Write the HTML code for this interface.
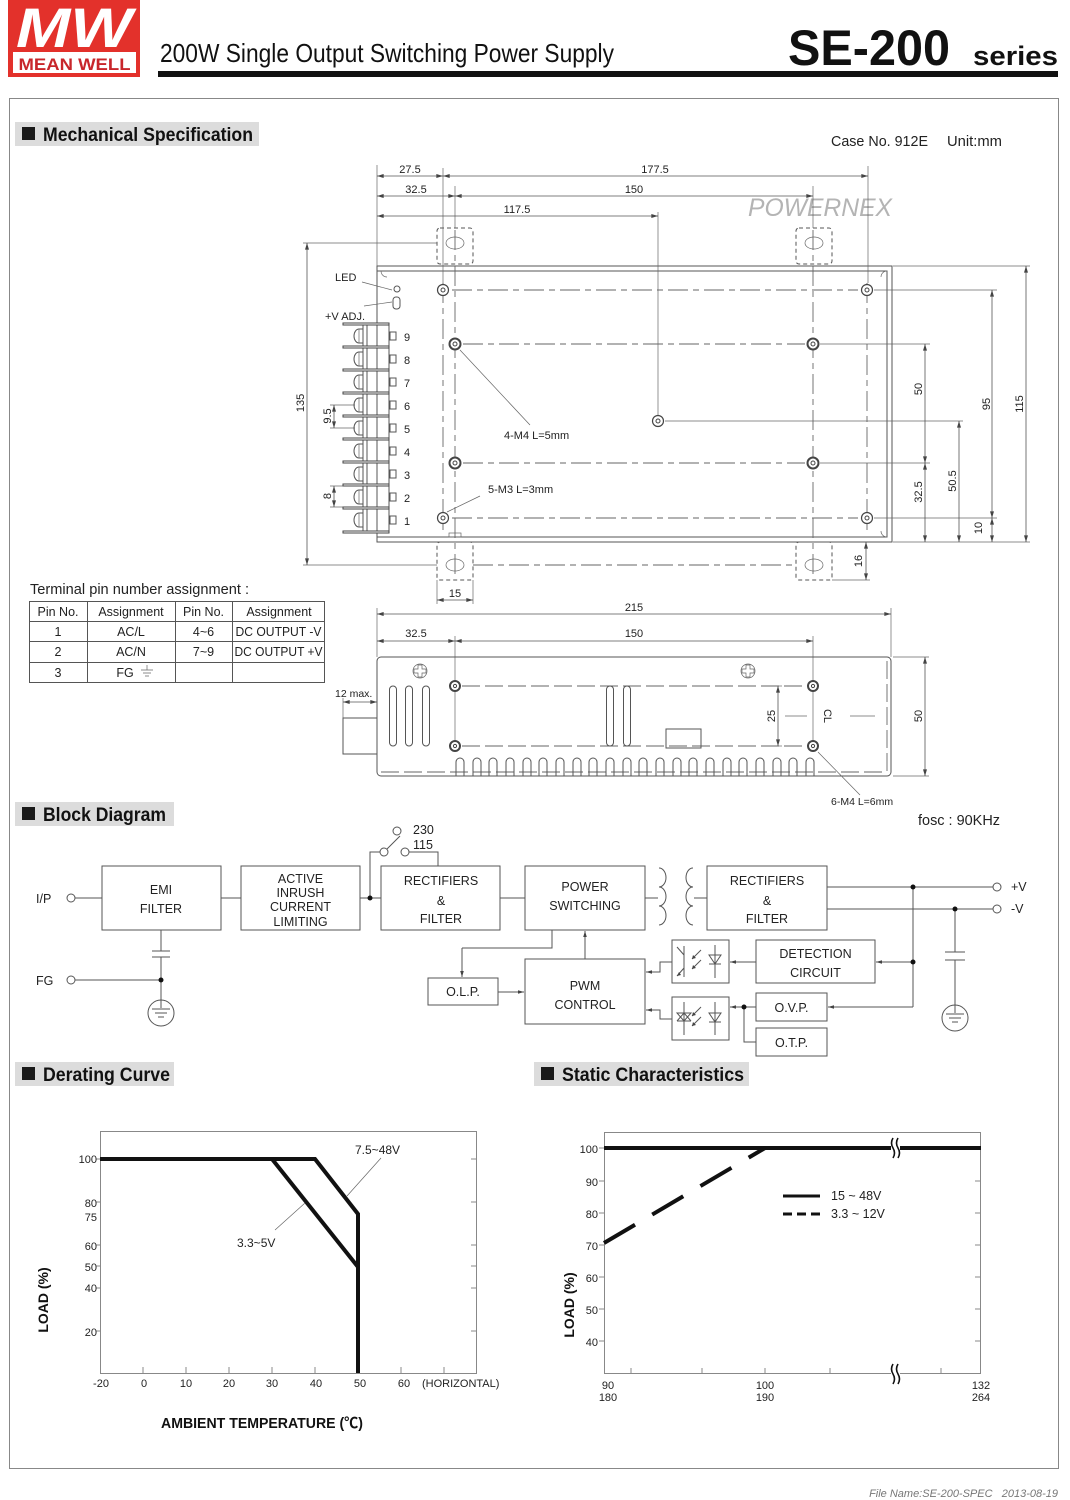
<!DOCTYPE html>
<html><head><meta charset="utf-8"><style>
html,body{margin:0;padding:0;background:#fff}
svg{display:block}
text{font-family:"Liberation Sans","Noto Sans CJK SC",Arial,sans-serif;fill:#222}
.s{stroke:#555;stroke-width:1;fill:none}
.e{stroke:#666;stroke-width:0.7;fill:none}
.d{stroke:#555;stroke-width:0.8;fill:none;marker-start:url(#a);marker-end:url(#a)}
.c{stroke:#666;stroke-width:0.9;fill:none;stroke-dasharray:20 5 6 5}
.dl{stroke:#666;stroke-width:0.9;fill:none;stroke-dasharray:18 5}
.t11{font-size:11px}
.t12{font-size:12.5px}
.bx{stroke:#555;stroke-width:1;fill:#fff}
.ar{stroke:#555;stroke-width:1;fill:none;marker-end:url(#b)}
.k{stroke:#111;stroke-width:4;fill:none;stroke-linejoin:miter}
</style></head><body>
<svg width="1070" height="1500" viewBox="0 0 1070 1500" xmlns="http://www.w3.org/2000/svg">
<defs>
<marker id="a" viewBox="0 0 10 6" refX="10" refY="3" markerWidth="7" markerHeight="4" markerUnits="userSpaceOnUse" orient="auto-start-reverse"><path d="M0,0 L10,3 L0,6z" fill="#444"/></marker>
<marker id="b" viewBox="0 0 10 6" refX="10" refY="3" markerWidth="6" markerHeight="4" markerUnits="userSpaceOnUse" orient="auto"><path d="M0,0 L10,3 L0,6z" fill="#444"/></marker>
</defs>

<!-- HEADER -->
<rect x="8" y="0" width="132" height="77" fill="#e3312b"/>
<text x="16" y="47" font-size="56" font-weight="bold" font-style="italic" textLength="116" lengthAdjust="spacingAndGlyphs" style="fill:#fff">MW</text>
<rect x="13" y="52" width="123" height="21" fill="#fff"/>
<text x="74.5" y="70" font-size="17" font-weight="bold" text-anchor="middle" textLength="112" lengthAdjust="spacingAndGlyphs" style="fill:#c8262b">MEAN WELL</text>
<text x="160" y="62" font-size="26" textLength="454" lengthAdjust="spacingAndGlyphs" style="fill:#111">200W Single Output Switching Power Supply</text>
<text x="788" y="65" font-size="50" font-weight="bold" textLength="162" lengthAdjust="spacingAndGlyphs" style="fill:#111">SE-200</text>
<text x="973" y="65" font-size="27" font-weight="bold" textLength="85" lengthAdjust="spacingAndGlyphs" style="fill:#111">series</text>
<rect x="158" y="71" width="900" height="6" fill="#111"/>

<!-- FRAME -->
<rect x="9.5" y="98.5" width="1049" height="1370" fill="none" stroke="#888" stroke-width="1"/>

<!-- SECTION HEADERS -->
<rect x="15" y="122" width="244" height="24" fill="#dcdcdc"/>
<rect x="22" y="127" width="13" height="13" fill="#1a1a1a"/>
<text x="43" y="141" font-size="19" font-weight="bold" textLength="210" lengthAdjust="spacingAndGlyphs" style="fill:#111">Mechanical Specification</text>
<text x="831" y="146" font-size="15" textLength="97" lengthAdjust="spacingAndGlyphs">Case No. 912E</text>
<text x="947" y="146" font-size="15" textLength="55" lengthAdjust="spacingAndGlyphs">Unit:mm</text>

<rect x="15" y="802" width="159" height="24" fill="#dcdcdc"/>
<rect x="22" y="807" width="13" height="13" fill="#1a1a1a"/>
<text x="43" y="821" font-size="19" font-weight="bold" textLength="123" lengthAdjust="spacingAndGlyphs" style="fill:#111">Block Diagram</text>

<rect x="15" y="1062" width="159" height="24" fill="#dcdcdc"/>
<rect x="22" y="1067" width="13" height="13" fill="#1a1a1a"/>
<text x="43" y="1081" font-size="19" font-weight="bold" textLength="127" lengthAdjust="spacingAndGlyphs" style="fill:#111">Derating Curve</text>

<rect x="534" y="1062" width="215" height="24" fill="#dcdcdc"/>
<rect x="541" y="1067" width="13" height="13" fill="#1a1a1a"/>
<text x="562" y="1081" font-size="19" font-weight="bold" textLength="182" lengthAdjust="spacingAndGlyphs" style="fill:#111">Static Characteristics</text>

<!-- ============ MECHANICAL TOP VIEW ============ -->
<text x="748" y="216" font-size="25" font-style="italic" textLength="144" lengthAdjust="spacingAndGlyphs" style="fill:#b4b4b4">POWERNEX</text>

<rect x="377" y="266" width="515" height="276" class="s"/>
<polyline points="377,271 887,271 887,537 377,537" class="s"/>
<path d="M381,271 a6,6 0 0 0 6,6 M887,271 a6,6 0 0 0 -6,6 M887,537 a6,6 0 0 1 -6,-6" class="e"/>
<rect x="449" y="533" width="12" height="4" class="e"/>

<g class="s" stroke-dasharray="4 3">
<rect x="437" y="228" width="36" height="36" rx="3"/>
<rect x="796" y="228" width="36" height="36" rx="3"/>
<rect x="437" y="542" width="36" height="38" rx="3"/>
<rect x="796" y="542" width="36" height="38" rx="3"/>
</g>
<g class="e">
<ellipse cx="455" cy="243" rx="9" ry="6"/><ellipse cx="814" cy="243" rx="9" ry="6"/>
<ellipse cx="455" cy="565" rx="9" ry="6"/><ellipse cx="814" cy="565" rx="9" ry="6"/>
</g>

<line x1="452" y1="290" x2="858" y2="290" class="c"/>
<line x1="463" y1="344" x2="805" y2="344" class="c"/>
<line x1="463" y1="463" x2="805" y2="463" class="c"/>
<line x1="452" y1="518" x2="858" y2="518" class="c"/>
<line x1="443" y1="283" x2="443" y2="530" class="c"/>
<line x1="867" y1="283" x2="867" y2="530" class="c"/>
<line x1="455" y1="230" x2="455" y2="578" class="c"/>
<line x1="813" y1="230" x2="813" y2="578" class="c"/>
<line x1="473" y1="565" x2="796" y2="565" class="c"/>

<g stroke="#444" fill="#fff">
<circle cx="443" cy="290" r="5.5" stroke-width="1.2"/><circle cx="443" cy="290" r="2" stroke-width="1"/>
<circle cx="867" cy="290" r="5.5" stroke-width="1.2"/><circle cx="867" cy="290" r="2" stroke-width="1"/>
<circle cx="443" cy="518" r="5.5" stroke-width="1.2"/><circle cx="443" cy="518" r="2" stroke-width="1"/>
<circle cx="867" cy="518" r="5.5" stroke-width="1.2"/><circle cx="867" cy="518" r="2" stroke-width="1"/>
<circle cx="658" cy="421" r="5.5" stroke-width="1.2"/><circle cx="658" cy="421" r="2" stroke-width="1"/>
<circle cx="455" cy="344" r="5.5" stroke-width="2"/><circle cx="455" cy="344" r="2" stroke-width="1"/>
<circle cx="455" cy="463" r="5.5" stroke-width="2"/><circle cx="455" cy="463" r="2" stroke-width="1"/>
<circle cx="813" cy="344" r="5.5" stroke-width="2"/><circle cx="813" cy="344" r="2" stroke-width="1"/>
<circle cx="813" cy="463" r="5.5" stroke-width="2"/><circle cx="813" cy="463" r="2" stroke-width="1"/>
</g>

<g class="e">
<line x1="377" y1="165" x2="377" y2="266"/>
<line x1="443" y1="168" x2="443" y2="283"/>
<line x1="868" y1="166" x2="868" y2="283"/>
<line x1="455" y1="186" x2="455" y2="228"/>
<line x1="813" y1="186" x2="813" y2="228"/>
<line x1="658" y1="212" x2="658" y2="415"/>
<line x1="893" y1="266" x2="1030" y2="266"/>
<line x1="874" y1="290" x2="997" y2="290"/>
<line x1="820" y1="344" x2="930" y2="344"/>
<line x1="665" y1="421" x2="963" y2="421"/>
<line x1="820" y1="463" x2="930" y2="463"/>
<line x1="874" y1="518" x2="997" y2="518"/>
<line x1="893" y1="542" x2="1030" y2="542"/>
<line x1="832" y1="580" x2="870" y2="580"/>
<line x1="303" y1="243" x2="437" y2="243"/>
<line x1="303" y1="565" x2="437" y2="565"/>
<line x1="330" y1="405" x2="355" y2="405"/>
<line x1="330" y1="428" x2="355" y2="428"/>
<line x1="330" y1="486" x2="355" y2="486"/>
<line x1="330" y1="507" x2="355" y2="507"/>
<line x1="437" y1="580" x2="437" y2="604"/>
<line x1="473" y1="580" x2="473" y2="604"/>
</g>

<line x1="377" y1="176" x2="443" y2="176" class="d"/>
<line x1="443" y1="176" x2="868" y2="176" class="d"/>
<line x1="377" y1="196" x2="455" y2="196" class="d"/>
<line x1="455" y1="196" x2="813" y2="196" class="d"/>
<line x1="377" y1="216" x2="658" y2="216" class="d"/>
<line x1="925" y1="344" x2="925" y2="463" class="d"/>
<line x1="925" y1="463" x2="925" y2="542" class="d"/>
<line x1="959" y1="421" x2="959" y2="542" class="d"/>
<line x1="992" y1="290" x2="992" y2="518" class="d"/>
<line x1="992" y1="518" x2="992" y2="542" class="d"/>
<line x1="1026" y1="266" x2="1026" y2="542" class="d"/>
<line x1="866" y1="542" x2="866" y2="580" class="d"/>
<line x1="307" y1="243" x2="307" y2="565" class="d"/>
<line x1="334" y1="405" x2="334" y2="428" class="d"/>
<line x1="334" y1="486" x2="334" y2="507" class="d"/>
<line x1="437" y1="600" x2="473" y2="600" class="d"/>

<g class="t11" text-anchor="middle">
<text x="410" y="173">27.5</text>
<text x="655" y="173">177.5</text>
<text x="416" y="193">32.5</text>
<text x="634" y="193">150</text>
<text x="517" y="213">117.5</text>
<text x="455" y="597">15</text>
<text transform="translate(922,389) rotate(-90)">50</text>
<text transform="translate(922,492) rotate(-90)">32.5</text>
<text transform="translate(956,481) rotate(-90)">50.5</text>
<text transform="translate(990,404) rotate(-90)">95</text>
<text transform="translate(982,528) rotate(-90)">10</text>
<text transform="translate(1023,404) rotate(-90)">115</text>
<text transform="translate(862,561) rotate(-90)">16</text>
<text transform="translate(304,403) rotate(-90)">135</text>
<text transform="translate(331,416) rotate(-90)">9.5</text>
<text transform="translate(331,496) rotate(-90)">8</text>
</g>

<g class="s">
<line x1="363" y1="324" x2="363" y2="532"/>
<line x1="367" y1="324" x2="367" y2="532"/>
<line x1="389" y1="324" x2="389" y2="532"/>
</g>
<g fill="#fff" stroke="#444" stroke-width="1">
<rect x="343" y="323" width="46" height="2"/>
<rect x="343" y="346" width="46" height="2"/>
<rect x="343" y="369" width="46" height="2"/>
<rect x="343" y="392" width="46" height="2"/>
<rect x="343" y="415" width="46" height="2"/>
<rect x="343" y="438" width="46" height="2"/>
<rect x="343" y="461" width="46" height="2"/>
<rect x="343" y="484" width="46" height="2"/>
<rect x="343" y="507" width="46" height="2"/>
<rect x="343" y="531" width="46" height="2"/>
</g>
<path class="s" d="M363,329 h-4 a5,7 0 0 0 0,14 h4 M363,352 h-4 a5,7 0 0 0 0,14 h4 M363,375 h-4 a5,7 0 0 0 0,14 h4 M363,398 h-4 a5,7 0 0 0 0,14 h4 M363,421 h-4 a5,7 0 0 0 0,14 h4 M363,444 h-4 a5,7 0 0 0 0,14 h4 M363,467 h-4 a5,7 0 0 0 0,14 h4 M363,490 h-4 a5,7 0 0 0 0,14 h4 M363,513 h-4 a5,7 0 0 0 0,14 h4"/>
<path class="e" d="M359,329 v14 M359,352 v14 M359,375 v14 M359,398 v14 M359,421 v14 M359,444 v14 M359,467 v14 M359,490 v14 M359,513 v14"/>
<g class="s">
<rect x="390" y="332" width="6" height="8"/><rect x="390" y="355" width="6" height="8"/>
<rect x="390" y="378" width="6" height="8"/><rect x="390" y="401" width="6" height="8"/>
<rect x="390" y="424" width="6" height="8"/><rect x="390" y="447" width="6" height="8"/>
<rect x="390" y="470" width="6" height="8"/><rect x="390" y="493" width="6" height="8"/>
<rect x="390" y="516" width="6" height="8"/>
</g>
<g class="t11">
<text x="404" y="341">9</text><text x="404" y="364">8</text><text x="404" y="387">7</text>
<text x="404" y="410">6</text><text x="404" y="433">5</text><text x="404" y="456">4</text>
<text x="404" y="479">3</text><text x="404" y="502">2</text><text x="404" y="525">1</text>
</g>

<circle cx="397" cy="289" r="3" class="s"/>
<rect x="393" y="297" width="7" height="12" rx="3" class="s"/>
<line x1="362" y1="282" x2="392" y2="290" class="e"/>
<line x1="364" y1="306" x2="392" y2="302" class="e"/>
<text x="335" y="281" class="t11">LED</text>
<text x="325" y="320" class="t11">+V ADJ.</text>

<line x1="460" y1="350" x2="530" y2="425" class="e"/>
<text x="504" y="439" class="t11">4-M4 L=5mm</text>
<line x1="480" y1="496" x2="447" y2="512" class="e"/>
<text x="488" y="493" class="t11">5-M3 L=3mm</text>

<!-- ============ TERMINAL TABLE ============ -->
<text x="30" y="594" font-size="15" textLength="219" lengthAdjust="spacingAndGlyphs">Terminal pin number assignment :</text>
<g class="s" stroke="#666">
<rect x="29.5" y="601.5" width="295" height="81"/>
<line x1="29.5" y1="621.5" x2="324.5" y2="621.5"/>
<line x1="29.5" y1="641.5" x2="324.5" y2="641.5"/>
<line x1="29.5" y1="662.5" x2="324.5" y2="662.5"/>
<line x1="87.5" y1="601.5" x2="87.5" y2="682.5"/>
<line x1="175.5" y1="601.5" x2="175.5" y2="682.5"/>
<line x1="232.5" y1="601.5" x2="232.5" y2="682.5"/>
</g>
<g class="t12" text-anchor="middle">
<text x="58" y="616">Pin No.</text><text x="131" y="616">Assignment</text>
<text x="203.5" y="616">Pin No.</text><text x="279" y="616">Assignment</text>
<text x="58" y="636">1</text><text x="131" y="636">AC/L</text>
<text x="203.5" y="636">4~6</text><text x="278.5" y="636" textLength="86" lengthAdjust="spacingAndGlyphs">DC OUTPUT -V</text>
<text x="58" y="656">2</text><text x="131" y="656">AC/N</text>
<text x="203.5" y="656">7~9</text><text x="278.5" y="656" textLength="88" lengthAdjust="spacingAndGlyphs">DC OUTPUT +V</text>
<text x="58" y="677">3</text><text x="125" y="677">FG</text>
</g>
<path d="M147,665 v5 M141,670 h12 M143,673 h8 M145,676 h4" class="e" stroke="#333"/>

<!-- ============ SIDE VIEW ============ -->
<g class="e">
<line x1="377" y1="608" x2="377" y2="657"/>
<line x1="891" y1="608" x2="891" y2="657"/>
<line x1="455" y1="636" x2="455" y2="746"/>
<line x1="813" y1="636" x2="813" y2="746"/>
<line x1="343" y1="698" x2="343" y2="718"/>
<line x1="893" y1="657" x2="929" y2="657"/>
<line x1="893" y1="776" x2="929" y2="776"/>
<line x1="770" y1="686" x2="782" y2="686"/>
<line x1="770" y1="746" x2="782" y2="746"/>
</g>
<line x1="377" y1="614" x2="891" y2="614" class="d"/>
<line x1="377" y1="641" x2="455" y2="641" class="d"/>
<line x1="455" y1="641" x2="813" y2="641" class="d"/>
<line x1="343" y1="702" x2="377" y2="702" class="d"/>
<line x1="778" y1="686" x2="778" y2="746" class="d"/>
<line x1="925" y1="657" x2="925" y2="776" class="d"/>
<g class="t11" text-anchor="middle">
<text x="634" y="611">215</text>
<text x="416" y="637">32.5</text>
<text x="634" y="637">150</text>
<text transform="translate(775,716) rotate(-90)">25</text>
<text transform="translate(922,716) rotate(-90)">50</text>
<text transform="translate(824,716) rotate(90)">CL</text>
</g>
<text x="335" y="697" font-size="10.5">12 max.</text>

<rect x="377" y="657" width="514" height="119" rx="4" class="s"/>
<line x1="887" y1="661" x2="887" y2="772" class="dl" stroke-dasharray="6 3"/>
<line x1="381" y1="772" x2="887" y2="772" class="dl" stroke-dasharray="8 3"/>
<rect x="343" y="718" width="34" height="36" class="s"/>

<g class="e" stroke="#555">
<circle cx="420" cy="671" r="7"/><path d="M418,665 h4 v4 h4 v4 h-4 v4 h-4 v-4 h-4 v-4 h4z"/>
<circle cx="748" cy="671" r="7"/><path d="M746,665 h4 v4 h4 v4 h-4 v4 h-4 v-4 h-4 v-4 h4z"/>
</g>
<line x1="462" y1="686" x2="806" y2="686" class="dl"/>
<line x1="462" y1="746" x2="806" y2="746" class="dl"/>
<g class="s">
<rect x="389.5" y="686" width="7" height="60" rx="3.5"/>
<rect x="405.5" y="686" width="7" height="60" rx="3.5"/>
<rect x="422.5" y="686" width="7" height="60" rx="3.5"/>
<rect x="606.5" y="686" width="7" height="60" rx="3.5"/>
<rect x="623.5" y="686" width="7" height="60" rx="3.5"/>
<rect x="666" y="729" width="35" height="19"/>
</g>
<g stroke="#444" fill="#fff">
<circle cx="455" cy="686" r="5" stroke-width="2"/><circle cx="455" cy="686" r="1.6"/>
<circle cx="455" cy="746" r="5" stroke-width="2"/><circle cx="455" cy="746" r="1.6"/>
<circle cx="813" cy="686" r="5" stroke-width="2"/><circle cx="813" cy="686" r="1.6"/>
<circle cx="813" cy="746" r="5" stroke-width="2"/><circle cx="813" cy="746" r="1.6"/>
</g>
<path class="s" d="M456,776V762a4,4 0 0 1 8,0V776 M473,776V762a4,4 0 0 1 8,0V776 M489,776V762a4,4 0 0 1 8,0V776 M506,776V762a4,4 0 0 1 8,0V776 M523,776V762a4,4 0 0 1 8,0V776 M539,776V762a4,4 0 0 1 8,0V776 M556,776V762a4,4 0 0 1 8,0V776 M573,776V762a4,4 0 0 1 8,0V776 M589,776V762a4,4 0 0 1 8,0V776 M606,776V762a4,4 0 0 1 8,0V776 M623,776V762a4,4 0 0 1 8,0V776 M639,776V762a4,4 0 0 1 8,0V776 M656,776V762a4,4 0 0 1 8,0V776 M673,776V762a4,4 0 0 1 8,0V776 M689,776V762a4,4 0 0 1 8,0V776 M706,776V762a4,4 0 0 1 8,0V776 M723,776V762a4,4 0 0 1 8,0V776 M739,776V762a4,4 0 0 1 8,0V776 M756,776V762a4,4 0 0 1 8,0V776 M773,776V762a4,4 0 0 1 8,0V776 M789,776V762a4,4 0 0 1 8,0V776 M806,776V762a4,4 0 0 1 8,0V776"/>
<line x1="785" y1="716" x2="807" y2="716" class="e"/>
<line x1="850" y1="716" x2="875" y2="716" class="e"/>
<line x1="818" y1="752" x2="860" y2="795" class="e"/>
<text x="831" y="805" font-size="10.5">6-M4 L=6mm</text>

<text x="918" y="825" font-size="14.5" textLength="82" lengthAdjust="spacingAndGlyphs">fosc : 90KHz</text>

<!-- ============ BLOCK DIAGRAM ============ -->
<g class="bx">
<rect x="102" y="866" width="119" height="64"/>
<rect x="241" y="866" width="119" height="64"/>
<rect x="381" y="866" width="119" height="64"/>
<rect x="525" y="866" width="120" height="64"/>
<rect x="707" y="866" width="120" height="64"/>
<rect x="525" y="959" width="120" height="65"/>
<rect x="428" y="978" width="70" height="27"/>
<rect x="756" y="940" width="119" height="43"/>
<rect x="756" y="993" width="71" height="28"/>
<rect x="756" y="1028" width="71" height="28"/>
<rect x="672" y="940" width="57" height="43"/>
<rect x="672" y="997" width="57" height="43"/>
</g>
<g class="t12" text-anchor="middle">
<text x="161" y="894">EMI</text><text x="161" y="913">FILTER</text>
<text x="300.5" y="883">ACTIVE</text><text x="300.5" y="897">INRUSH</text>
<text x="300.5" y="911">CURRENT</text><text x="300.5" y="926">LIMITING</text>
<text x="441" y="885">RECTIFIERS</text><text x="441" y="905">&amp;</text><text x="441" y="923">FILTER</text>
<text x="585" y="891">POWER</text><text x="585" y="910">SWITCHING</text>
<text x="767" y="885">RECTIFIERS</text><text x="767" y="905">&amp;</text><text x="767" y="923">FILTER</text>
<text x="585" y="990">PWM</text><text x="585" y="1009">CONTROL</text>
<text x="463" y="996">O.L.P.</text>
<text x="815.5" y="958">DETECTION</text><text x="815.5" y="977">CIRCUIT</text>
<text x="791.5" y="1012">O.V.P.</text>
<text x="791.5" y="1047">O.T.P.</text>
</g>
<g class="t12">
<text x="36" y="903">I/P</text>
<text x="36" y="985">FG</text>
<text x="1011" y="891">+V</text>
<text x="1011" y="913">-V</text>
<text x="413" y="834">230</text>
<text x="413" y="849">115</text>
</g>

<g class="s">
<circle cx="71" cy="898" r="4"/>
<line x1="75" y1="898" x2="102" y2="898"/>
<line x1="221" y1="898" x2="241" y2="898"/>
<line x1="360" y1="898" x2="381" y2="898"/>
<polyline points="370,898 370,852 380,852"/>
<circle cx="384" cy="852" r="4"/>
<circle cx="397" cy="831" r="4"/>
<circle cx="405" cy="852" r="4"/>
<line x1="387" y1="849" x2="400" y2="836"/>
<polyline points="409,852 438,852 438,866"/>
<line x1="500" y1="898" x2="525" y2="898"/>
<line x1="645" y1="898" x2="658" y2="898"/>
<line x1="694" y1="898" x2="707" y2="898"/>
<path d="M659,868 a7,9.5 0 0 1 0,19 a7,9.5 0 0 1 0,19 a7,9.5 0 0 1 0,19"/>
<path d="M693,868 a7,9.5 0 0 0 0,19 a7,9.5 0 0 0 0,19 a7,9.5 0 0 0 0,19"/>
<line x1="827" y1="887" x2="993" y2="887"/>
<line x1="827" y1="909" x2="993" y2="909"/>
<circle cx="997" cy="887" r="4"/>
<circle cx="997" cy="909" r="4"/>
<line x1="913" y1="887" x2="913" y2="1007"/>
<polyline points="552,930 552,948 462,948"/>
<line x1="955" y1="909" x2="955" y2="952"/>
<line x1="955" y1="960" x2="955" y2="1005"/>
<line x1="945" y1="952" x2="965" y2="952"/>
<line x1="945" y1="960" x2="965" y2="960"/>
<circle cx="955" cy="1018" r="13"/>
<line x1="955" y1="1005" x2="955" y2="1013"/>
<line x1="946" y1="1014" x2="964" y2="1014"/>
<line x1="949" y1="1018" x2="961" y2="1018"/>
<line x1="952" y1="1022" x2="958" y2="1022"/>
<circle cx="71" cy="980" r="4"/>
<line x1="75" y1="980" x2="161" y2="980"/>
<line x1="161" y1="930" x2="161" y2="951"/>
<line x1="161" y1="957" x2="161" y2="1000"/>
<line x1="152" y1="951" x2="170" y2="951"/>
<line x1="152" y1="957" x2="170" y2="957"/>
<circle cx="161" cy="1013" r="13"/>
<line x1="161" y1="1000" x2="161" y2="1008"/>
<line x1="152" y1="1009" x2="170" y2="1009"/>
<line x1="155" y1="1013" x2="167" y2="1013"/>
<line x1="158" y1="1017" x2="164" y2="1017"/>
<polyline points="672,962 660,962 660,972 649,972"/>
<polyline points="672,1019 660,1019 660,1010 649,1010"/>
<polyline points="744,1007 744,1042 756,1042"/>
</g>
<g class="ar">
<line x1="462" y1="948" x2="462" y2="977"/>
<line x1="498" y1="992" x2="524" y2="992"/>
<line x1="585" y1="959" x2="585" y2="931"/>
<line x1="655" y1="972" x2="646" y2="972"/>
<line x1="655" y1="1010" x2="646" y2="1010"/>
<line x1="756" y1="962" x2="730" y2="962"/>
<line x1="913" y1="962" x2="876" y2="962"/>
<line x1="913" y1="1007" x2="828" y2="1007"/>
<line x1="756" y1="1007" x2="730" y2="1007"/>
</g>
<g fill="#111">
<circle cx="370" cy="898" r="2.5"/>
<circle cx="913" cy="887" r="2.5"/>
<circle cx="913" cy="962" r="2.5"/>
<circle cx="955" cy="909" r="2.5"/>
<circle cx="744" cy="1007" r="2.5"/>
<circle cx="161" cy="980" r="2.5"/>
</g>
<g class="s" stroke="#444">
<line x1="684" y1="946" x2="684" y2="977"/>
<line x1="684" y1="955" x2="677" y2="947"/>
<line x1="684" y1="968" x2="677" y2="976"/>
<line x1="701" y1="950" x2="692" y2="959"/>
<line x1="701" y1="960" x2="692" y2="969"/>
<line x1="715" y1="945" x2="715" y2="978"/>
<path d="M709,955 h12 l-6,9z"/>
<line x1="709" y1="964" x2="721" y2="964"/>
<line x1="684" y1="1002" x2="684" y2="1035"/>
<path d="M677,1013 h14 l-7,8z M677,1021 l7,-8 l7,8"/>
<line x1="677" y1="1013" x2="691" y2="1013"/>
<line x1="677" y1="1021" x2="691" y2="1021"/>
<line x1="701" y1="1007" x2="692" y2="1016"/>
<line x1="701" y1="1017" x2="692" y2="1026"/>
<line x1="715" y1="1002" x2="715" y2="1035"/>
<path d="M709,1013 h12 l-6,9z"/>
<line x1="709" y1="1022" x2="721" y2="1022"/>
</g>
<g fill="#444">
<path d="M692,959 l1,-4 l3,3z M692,969 l1,-4 l3,3z M692,1016 l1,-4 l3,3z M692,1026 l1,-4 l3,3z M677,976 l4,-1 l-2,-3z"/>
</g>

<!-- ============ DERATING CURVE ============ -->
<rect x="100.5" y="1131.5" width="376" height="242" fill="none" stroke="#888" stroke-width="1"/>
<g stroke="#888" stroke-width="1">
<line x1="96" y1="1159" x2="100" y2="1159"/><line x1="96" y1="1202" x2="100" y2="1202"/>
<line x1="96" y1="1245" x2="100" y2="1245"/><line x1="96" y1="1266" x2="100" y2="1266"/>
<line x1="96" y1="1288" x2="100" y2="1288"/><line x1="96" y1="1331" x2="100" y2="1331"/>
<line x1="471" y1="1159" x2="477" y2="1159"/><line x1="471" y1="1202" x2="477" y2="1202"/>
<line x1="471" y1="1245" x2="477" y2="1245"/><line x1="471" y1="1266" x2="477" y2="1266"/>
<line x1="471" y1="1288" x2="477" y2="1288"/><line x1="471" y1="1331" x2="477" y2="1331"/>
<line x1="143" y1="1367" x2="143" y2="1373"/><line x1="186" y1="1367" x2="186" y2="1373"/>
<line x1="229" y1="1367" x2="229" y2="1373"/><line x1="272" y1="1367" x2="272" y2="1373"/>
<line x1="315" y1="1367" x2="315" y2="1373"/><line x1="401" y1="1367" x2="401" y2="1373"/>
<line x1="444" y1="1367" x2="444" y2="1373"/>
</g>
<g font-size="11" text-anchor="end">
<text x="97" y="1163">100</text><text x="97" y="1207">80</text><text x="97" y="1221">75</text>
<text x="97" y="1250">60</text><text x="97" y="1271">50</text><text x="97" y="1292">40</text>
<text x="97" y="1336">20</text>
</g>
<g font-size="11" text-anchor="middle">
<text x="101" y="1387">-20</text><text x="144" y="1387">0</text><text x="186" y="1387">10</text>
<text x="229" y="1387">20</text><text x="272" y="1387">30</text><text x="316" y="1387">40</text>
<text x="360" y="1387">50</text><text x="404" y="1387">60</text>
</g>
<text x="422" y="1387" font-size="11">(HORIZONTAL)</text>
<polyline points="100,1159 315,1159 358,1214 358,1373" class="k"/>
<polyline points="272,1159 358,1267" class="k"/>
<line x1="381" y1="1158" x2="347" y2="1196" class="e" stroke="#333"/>
<line x1="275" y1="1230" x2="305" y2="1203" class="e" stroke="#333"/>
<text x="355" y="1154" font-size="12">7.5~48V</text>
<text x="237" y="1247" font-size="12">3.3~5V</text>
<text transform="translate(48,1300) rotate(-90)" font-size="14" font-weight="bold" text-anchor="middle" style="fill:#111">LOAD (%)</text>
<text x="262" y="1428" font-size="15" font-weight="bold" text-anchor="middle" textLength="202" lengthAdjust="spacingAndGlyphs" style="fill:#111">AMBIENT TEMPERATURE (℃)</text>

<!-- ============ STATIC CHARACTERISTICS ============ -->
<rect x="604.5" y="1132.5" width="376" height="241" fill="none" stroke="#888" stroke-width="1"/>
<g stroke="#888" stroke-width="1">
<line x1="599" y1="1148" x2="604" y2="1148"/><line x1="599" y1="1181" x2="604" y2="1181"/>
<line x1="599" y1="1213" x2="604" y2="1213"/><line x1="599" y1="1245" x2="604" y2="1245"/>
<line x1="599" y1="1277" x2="604" y2="1277"/><line x1="599" y1="1309" x2="604" y2="1309"/>
<line x1="599" y1="1341" x2="604" y2="1341"/>
<line x1="975" y1="1181" x2="981" y2="1181"/><line x1="975" y1="1213" x2="981" y2="1213"/>
<line x1="975" y1="1245" x2="981" y2="1245"/><line x1="975" y1="1277" x2="981" y2="1277"/>
<line x1="975" y1="1309" x2="981" y2="1309"/><line x1="975" y1="1341" x2="981" y2="1341"/>
<line x1="631" y1="1368" x2="631" y2="1374"/><line x1="702" y1="1368" x2="702" y2="1374"/>
<line x1="765" y1="1368" x2="765" y2="1374"/><line x1="830" y1="1368" x2="830" y2="1374"/>
<line x1="941" y1="1368" x2="941" y2="1374"/>
</g>
<g font-size="11" text-anchor="end">
<text x="598" y="1153">100</text><text x="598" y="1186">90</text><text x="598" y="1218">80</text>
<text x="598" y="1250">70</text><text x="598" y="1282">60</text><text x="598" y="1314">50</text>
<text x="598" y="1346">40</text>
</g>
<g font-size="11" text-anchor="middle">
<text x="608" y="1389">90</text><text x="608" y="1401">180</text>
<text x="765" y="1389">100</text><text x="765" y="1401">190</text>
<text x="981" y="1389">132</text><text x="981" y="1401">264</text>
</g>
<line x1="604" y1="1148" x2="981" y2="1148" stroke="#111" stroke-width="4"/>
<line x1="604" y1="1243" x2="765" y2="1148" stroke="#111" stroke-width="4" stroke-dasharray="36 20"/>
<rect x="891" y="1140" width="9" height="16" fill="#fff"/>
<rect x="891" y="1366" width="9" height="16" fill="#fff"/>
<path d="M893,1138 q-3,5 0,10 q3,5 0,10 M898,1138 q-3,5 0,10 q3,5 0,10 M893,1364 q-3,5 0,10 q3,5 0,10 M898,1364 q-3,5 0,10 q3,5 0,10" stroke="#111" stroke-width="1.6" fill="none"/>
<line x1="783" y1="1196" x2="820" y2="1196" stroke="#111" stroke-width="3"/>
<line x1="783" y1="1214" x2="820" y2="1214" stroke="#111" stroke-width="3" stroke-dasharray="9 5"/>
<text x="831" y="1200" font-size="12.5">15 ~ 48V</text>
<text x="831" y="1218" font-size="12.5">3.3 ~ 12V</text>
<text transform="translate(574,1305) rotate(-90)" font-size="14" font-weight="bold" text-anchor="middle" style="fill:#111">LOAD (%)</text>

<!-- FOOTER -->
<text x="1058" y="1497" font-size="11" font-style="italic" text-anchor="end" style="fill:#777" xml:space="preserve">File Name:SE-200-SPEC   2013-08-19</text>
</svg>
</body></html>
